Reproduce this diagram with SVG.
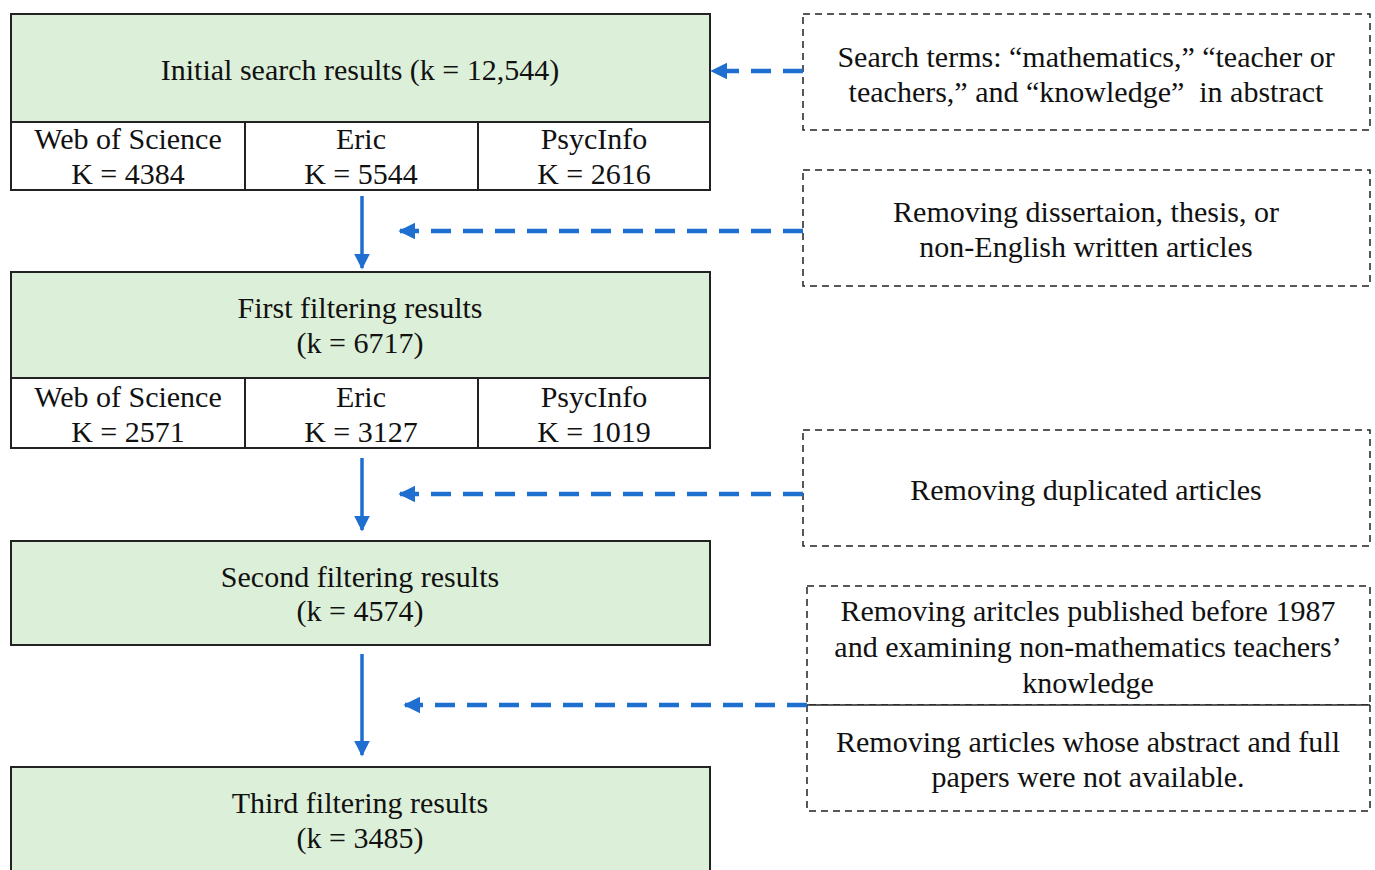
<svg xmlns="http://www.w3.org/2000/svg" width="1375" height="870" viewBox="0 0 1375 870">
<defs>
<style>
text{font-family:"Liberation Serif","Times New Roman",serif;font-size:30px;fill:#111;text-anchor:middle}
.g{fill:#dcefd8;stroke:#222;stroke-width:2}
.w{fill:#fff;stroke:#222;stroke-width:2}
.d{fill:#fff;stroke:#222;stroke-width:1.5;stroke-dasharray:7 5}
.sl{stroke:#1f6fd0;stroke-width:3.5;fill:none}
.dl{stroke:#1f6fd0;stroke-width:4.5;fill:none;stroke-dasharray:20 12}
</style>
<marker id="ah" viewBox="0 0 10 10" refX="9" refY="5" markerWidth="4.5" markerHeight="4.5" orient="auto" markerUnits="strokeWidth">
<path d="M0,0 L10,5 L0,10 z" fill="#1f6fd0"/>
</marker>
<marker id="ah2" viewBox="0 0 10 10" refX="9" refY="5" markerWidth="3.8" markerHeight="3.8" orient="auto" markerUnits="strokeWidth">
<path d="M0,0 L10,5 L0,10 z" fill="#1f6fd0"/>
</marker>
</defs>
<rect width="1375" height="870" fill="#fff"/>

<g id="initial">
<rect class="g" x="11" y="14" width="699" height="108"/>
<rect class="w" x="11" y="122" width="699" height="68"/>
<line x1="245" y1="122" x2="245" y2="190" stroke="#222" stroke-width="2"/>
<line x1="478" y1="122" x2="478" y2="190" stroke="#222" stroke-width="2"/>
<text x="360" y="80">Initial search results (k = 12,544)</text>
<text x="128" y="149">Web of Science</text><text x="128" y="184">K = 4384</text>
<text x="361" y="149">Eric</text><text x="361" y="184">K = 5544</text>
<text x="594" y="149">PsycInfo</text><text x="594" y="184">K = 2616</text>
</g>

<g id="first">
<rect class="g" x="11" y="272" width="699" height="106"/>
<rect class="w" x="11" y="378" width="699" height="70"/>
<line x1="245" y1="378" x2="245" y2="448" stroke="#222" stroke-width="2"/>
<line x1="478" y1="378" x2="478" y2="448" stroke="#222" stroke-width="2"/>
<text x="360" y="318">First filtering results</text>
<text x="360" y="353">(k = 6717)</text>
<text x="128" y="407">Web of Science</text><text x="128" y="442">K = 2571</text>
<text x="361" y="407">Eric</text><text x="361" y="442">K = 3127</text>
<text x="594" y="407">PsycInfo</text><text x="594" y="442">K = 1019</text>
</g>

<g id="second">
<rect class="g" x="11" y="541" width="699" height="104"/>
<text x="360" y="587">Second filtering results</text>
<text x="360" y="621">(k = 4574)</text>
</g>

<g id="third">
<rect class="g" x="11" y="767" width="699" height="110"/>
<text x="360" y="813">Third filtering results</text>
<text x="360" y="848">(k = 3485)</text>
</g>

<g id="search-terms">
<rect class="d" x="803" y="14" width="567" height="116"/>
<text x="1086" y="67">Search terms: “mathematics,” “teacher or</text>
<text x="1086" y="102" xml:space="preserve">teachers,” and “knowledge”  in abstract</text>
</g>

<g id="remove-dissertation">
<rect class="d" x="803" y="170" width="567" height="116"/>
<text x="1086" y="222">Removing dissertaion, thesis, or</text>
<text x="1086" y="257">non-English written articles</text>
</g>

<g id="remove-duplicated">
<rect class="d" x="803" y="430" width="567" height="116"/>
<text x="1086" y="500">Removing duplicated articles</text>
</g>

<g id="remove-before-1987">
<rect class="d" x="807" y="586" width="563" height="119"/>
<text x="1088" y="621">Removing aritcles published before 1987</text>
<text x="1088" y="657">and examining non-mathematics teachers’</text>
<text x="1088" y="693">knowledge</text>
</g>

<g id="remove-unavailable">
<path class="d" d="M807,705 L807,811 L1370,811 L1370,705" fill="none"/>
<line x1="807" y1="705" x2="1370" y2="705" stroke="#222" stroke-width="1.5"/>
<text x="1088" y="752">Removing articles whose abstract and full</text>
<text x="1088" y="787">papers were not available.</text>
</g>

<g id="connectors">
<line class="sl" x1="362" y1="196" x2="362" y2="268" marker-end="url(#ah)"/>
<line class="sl" x1="362" y1="458" x2="362" y2="530" marker-end="url(#ah)"/>
<line class="sl" x1="362" y1="654" x2="362" y2="755" marker-end="url(#ah)"/>
<line class="dl" x1="803" y1="71" x2="712" y2="71" marker-end="url(#ah2)"/>
<line class="dl" x1="803" y1="231" x2="400" y2="231" marker-end="url(#ah2)"/>
<line class="dl" x1="803" y1="494" x2="400" y2="494" marker-end="url(#ah2)"/>
<line class="dl" x1="807" y1="705" x2="405" y2="705" marker-end="url(#ah2)"/>
</g>
</svg>
